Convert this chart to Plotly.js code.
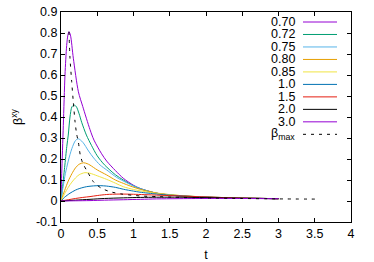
<!DOCTYPE html>
<html>
<head>
<meta charset="utf-8">
<script src="https://cdn.plot.ly/plotly-3.0.1.min.js"></script>
<style>html,body{margin:0;padding:0;background:#fff;}#chart{width:374px;height:262px;}</style>
</head>
<body>
<div id="chart"></div>
<script>
// ---- data ----
var seriesNames = ["0.70", "0.72", "0.75", "0.80", "0.85", "1.0", "1.5", "2.0", "3.0"];
var seriesColors = ["#9400d3", "#009e73", "#56b4e9", "#e69f00", "#f0e442", "#0072b2", "#e51e10", "#000000", "#9400d3"];

var t070 = [0, 0.01, 0.032, 0.055, 0.078, 0.095, 0.11, 0.13, 0.17, 0.24, 0.3, 0.4, 0.455, 0.56, 0.63, 0.75, 0.86, 1.0, 1.09, 1.32, 1.64, 2.0, 2.5, 3.0];
var b070 = [0, 0.13, 0.36, 0.6, 0.74, 0.79, 0.806, 0.79, 0.68, 0.52, 0.45, 0.34, 0.29, 0.225, 0.19, 0.145, 0.108, 0.075, 0.06, 0.037, 0.024, 0.018, 0.014, 0.011];

var t072 = [0, 0.02, 0.05, 0.08, 0.1, 0.124, 0.15, 0.18, 0.21, 0.25, 0.285, 0.35, 0.42, 0.5, 0.6, 0.75, 0.86, 1.0, 1.1, 1.32, 1.64, 2.0, 2.5, 3.0];
var b072 = [0, 0.06, 0.16, 0.26, 0.314, 0.4, 0.448, 0.457, 0.45, 0.415, 0.375, 0.314, 0.265, 0.215, 0.172, 0.125, 0.1, 0.072, 0.058, 0.037, 0.024, 0.018, 0.014, 0.011];

var t075 = [0, 0.03, 0.06, 0.1, 0.15, 0.2, 0.24, 0.3, 0.38, 0.45, 0.54, 0.63, 0.77, 0.9, 1.1, 1.32, 1.64, 2.0, 2.5, 3.0];
var b075 = [0, 0.07, 0.13, 0.19, 0.25, 0.288, 0.296, 0.28, 0.238, 0.205, 0.171, 0.148, 0.112, 0.088, 0.058, 0.037, 0.025, 0.018, 0.014, 0.011];

var t080 = [0, 0.05, 0.1, 0.15, 0.2, 0.25, 0.31, 0.36, 0.4, 0.5, 0.63, 0.75, 0.86, 0.95, 1.1, 1.32, 1.64, 2.0, 2.5, 3.0];
var b080 = [0, 0.05, 0.095, 0.13, 0.158, 0.175, 0.182, 0.178, 0.171, 0.148, 0.124, 0.1, 0.084, 0.072, 0.055, 0.038, 0.026, 0.019, 0.014, 0.011];

var t085 = [0, 0.05, 0.1, 0.15, 0.2, 0.25, 0.33, 0.4, 0.5, 0.63, 0.75, 0.86, 1.0, 1.1, 1.32, 1.64, 2.0, 2.5, 3.0];
var b085 = [0, 0.035, 0.065, 0.09, 0.11, 0.125, 0.135, 0.132, 0.12, 0.103, 0.085, 0.068, 0.055, 0.048, 0.036, 0.026, 0.019, 0.014, 0.011];

var t100 = [0, 0.05, 0.124, 0.2, 0.26, 0.35, 0.45, 0.54, 0.63, 0.75, 0.86, 1.0, 1.09, 1.32, 1.5, 1.75, 2.0, 2.5, 3.0];
var b100 = [0, 0.018, 0.037, 0.052, 0.06, 0.068, 0.072, 0.073, 0.071, 0.065, 0.056, 0.047, 0.042, 0.033, 0.028, 0.023, 0.019, 0.014, 0.011];

var t150 = [0, 0.1, 0.2, 0.3, 0.4, 0.5, 0.63, 0.8, 1.0, 1.32, 1.64, 2.0, 2.5, 3.0];
var b150 = [0, 0.006, 0.012, 0.017, 0.021, 0.026, 0.031, 0.033, 0.032, 0.028, 0.024, 0.019, 0.014, 0.011];

var t200 = [0, 0.2, 0.4, 0.6, 0.86, 1.1, 1.32, 1.64, 2.0, 2.5, 3.0];
var b200 = [0, 0.004, 0.008, 0.012, 0.015, 0.017, 0.018, 0.018, 0.016, 0.013, 0.011];

var t300 = [0, 0.2, 0.4, 0.6, 0.86, 1.1, 1.32, 1.6, 2.0, 2.5, 3.0];
var b300 = [0, 0.001, 0.002, 0.004, 0.006, 0.008, 0.01, 0.011, 0.012, 0.012, 0.011];

var tMax = [0.11, 0.124, 0.147, 0.17, 0.193, 0.215, 0.24, 0.265, 0.3, 0.35, 0.4, 0.446, 0.5, 0.56, 0.68, 0.84, 1.09, 1.32, 1.55, 2.0, 2.5, 3.0, 3.57];
var bMax = [0.806, 0.68, 0.57, 0.47, 0.38, 0.32, 0.28, 0.22, 0.18, 0.148, 0.118, 0.092, 0.075, 0.06, 0.044, 0.033, 0.024, 0.021, 0.018, 0.015, 0.012, 0.01, 0.009];
var maxName = "β<sub>max</sub>";

var xTickVals = [0, 0.5, 1, 1.5, 2, 2.5, 3, 3.5, 4];
var xTickText = ["0", "0.5", "1", "1.5", "2", "2.5", "3", "3.5", "4"];
var yTickVals = [-0.1, 0, 0.1, 0.2, 0.3, 0.4, 0.5, 0.6, 0.7, 0.8, 0.9];
var yTickText = ["-0.1", "0", "0.1", "0.2", "0.3", "0.4", "0.5", "0.6", "0.7", "0.8", "0.9"];

// ---- build traces ----
var ts = [t070, t072, t075, t080, t085, t100, t150, t200, t300];
var bs = [b070, b072, b075, b080, b085, b100, b150, b200, b300];
var FONT = "Liberation Sans, Arial, sans-serif";
var traces = [];
for (var i = 0; i < ts.length; i++) {
  traces.push({
    x: ts[i], y: bs[i], type: "scatter", mode: "lines", name: seriesNames[i],
    line: {color: seriesColors[i], width: 1, shape: "spline", smoothing: 0.8},
    hoverinfo: "skip"
  });
}
traces.push({
  x: tMax, y: bMax, type: "scatter", mode: "lines", name: maxName,
  line: {color: "#000000", width: 1, dash: "3px,5px", shape: "spline", smoothing: 0.6},
  hoverinfo: "skip"
});

// ---- gnuplot-style key (text right-aligned, sample on the right) ----
var W = 374, H = 262, ML = 61, MR = 23, MT = 12, MB = 40;
var pw = W - ML - MR, ph = H - MT - MB;
function px2x(p) { return (p - ML) / pw; }
function py2y(p) { return (H - MB - p) / ph; }
var keyTextX = 296, keyLineX0 = 303, keyLineX1 = 337, keyY0 = 22, keyDY = 12.48;
var annotations = [], shapes = [];
var keyNames = seriesNames.concat([maxName]);
var keyColors = seriesColors.concat(["#000000"]);
for (var k = 0; k < keyNames.length; k++) {
  var yy = py2y(keyY0 + k * keyDY);
  annotations.push({
    xref: "paper", yref: "paper", x: px2x(keyTextX), y: yy,
    xanchor: "right", yanchor: "middle", showarrow: false, borderpad: 0,
    text: keyNames[k], font: {family: FONT, size: 12.5, color: "#000"}
  });
  shapes.push({
    type: "line", xref: "paper", yref: "paper",
    x0: px2x(keyLineX0), x1: px2x(keyLineX1), y0: yy, y1: yy,
    line: {color: keyColors[k], width: 1, dash: k === keyNames.length - 1 ? "3px,5px" : "solid"}
  });
}

var axisCommon = {
  showline: true, linecolor: "#000", linewidth: 1, mirror: "ticks",
  ticks: "inside", ticklen: 4, tickcolor: "#000", tickwidth: 1,
  showgrid: false, zeroline: false, tickmode: "array",
  tickfont: {family: FONT, size: 12.5, color: "#000"}
};
var layout = {
  width: W, height: H,
  margin: {l: ML, r: MR, t: MT, b: MB, pad: 0},
  paper_bgcolor: "#fff", plot_bgcolor: "#fff",
  showlegend: false,
  font: {family: FONT, size: 12.5, color: "#000"},
  xaxis: Object.assign({}, axisCommon, {
    range: [0, 4], tickvals: xTickVals, ticktext: xTickText,
    title: {text: "t", font: {family: FONT, size: 12.5, color: "#000"}, standoff: 12}
  }),
  yaxis: Object.assign({}, axisCommon, {
    range: [-0.1, 0.9], tickvals: yTickVals, ticktext: yTickText,
    title: {text: "β<sup>xy</sup>", font: {family: FONT, size: 12.5, color: "#000"}, standoff: 10}
  }),
  annotations: annotations,
  shapes: shapes
};
Plotly.newPlot("chart", traces, layout, {staticPlot: true, displayModeBar: false});
</script>
</body>
</html>
